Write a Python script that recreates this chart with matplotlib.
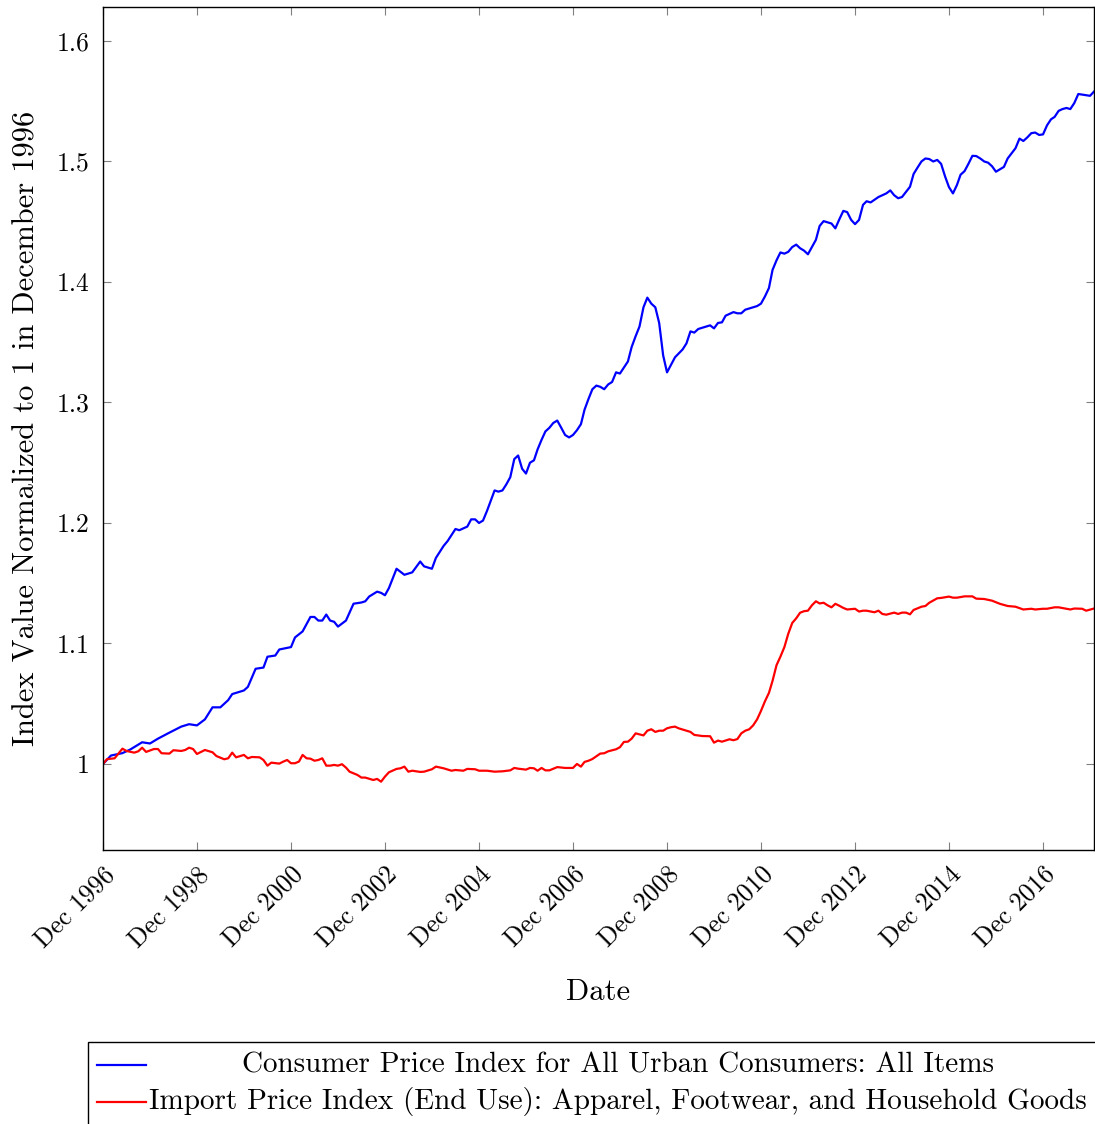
import matplotlib
matplotlib.use("Agg")
import matplotlib.pyplot as plt
import matplotlib.dates as mdates
from matplotlib.lines import Line2D
from matplotlib.patches import Rectangle
import pandas as pd

plt.rcParams['font.family'] = ['cmr10', 'DejaVu Serif']
plt.rcParams['axes.formatter.use_mathtext'] = True
plt.rcParams['mathtext.fontset'] = 'cm'

# ---- data (months after Dec 1996, index values) ----
cpi_months = [0, 2, 5, 7, 10, 12, 14, 17, 20, 22, 24, 26, 28, 30, 32, 33, 36, 37, 39, 41,
              42, 44, 45, 48, 49, 51, 53, 54, 55, 56, 57, 58, 59, 60, 62, 64, 66, 67, 68, 70,
              71, 72, 73, 75, 77, 79, 81, 82, 84, 85, 87, 88, 90, 91, 93, 94, 95, 96, 97, 98,
              100, 101, 102, 103, 104, 105, 106, 107, 108, 109, 110, 111, 112, 113, 114, 115, 116, 117, 118, 119,
              120, 121, 122, 123, 124, 125, 126, 127, 128, 129, 130, 131, 132, 133, 134, 135, 136, 137, 138, 139,
              140, 141, 142, 143, 144, 146, 148, 149, 150, 151, 152, 154, 155, 156, 157, 158, 159, 161, 162, 163,
              164, 166, 167, 168, 169, 170, 171, 172, 173, 174, 175, 176, 177, 178, 179, 180, 181, 182, 183, 184,
              186, 187, 188, 189, 190, 191, 192, 193, 194, 195, 196, 198, 199, 200, 201, 202, 203, 204, 206, 207,
              208, 209, 210, 211, 212, 213, 214, 215, 216, 217, 218, 219, 220, 221, 222, 223, 224, 225, 226, 227,
              228, 229, 230, 231, 233, 234, 235, 236, 237, 238, 239, 240, 241, 242, 243, 244, 245, 246, 247, 248,
              249, 250, 251, 252, 253]
cpi_values = [1.000, 1.007, 1.009, 1.012, 1.018, 1.017, 1.021, 1.026, 1.031, 1.033, 1.032, 1.037, 1.047, 1.047, 1.053, 1.058, 1.061, 1.064, 1.079, 1.080,
              1.089, 1.090, 1.095, 1.097, 1.105, 1.110, 1.122, 1.122, 1.119, 1.119, 1.124, 1.119, 1.118, 1.114, 1.119, 1.133, 1.134, 1.135, 1.139, 1.143,
              1.142, 1.140, 1.146, 1.162, 1.157, 1.159, 1.168, 1.164, 1.162, 1.171, 1.181, 1.185, 1.195, 1.194, 1.197, 1.203, 1.203, 1.200, 1.202, 1.210,
              1.227, 1.226, 1.227, 1.232, 1.238, 1.253, 1.256, 1.245, 1.241, 1.250, 1.252, 1.261, 1.269, 1.276, 1.279, 1.283, 1.285, 1.279, 1.273, 1.271,
              1.273, 1.277, 1.282, 1.294, 1.303, 1.311, 1.314, 1.313, 1.311, 1.315, 1.317, 1.325, 1.324, 1.329, 1.334, 1.346, 1.355, 1.363, 1.379, 1.387,
              1.382, 1.379, 1.366, 1.339, 1.325, 1.3375, 1.344, 1.349, 1.359, 1.358, 1.361, 1.363, 1.364, 1.3615, 1.366, 1.3665, 1.372, 1.375, 1.374, 1.374,
              1.377, 1.379, 1.380, 1.382, 1.388, 1.395, 1.410, 1.418, 1.4245, 1.4235, 1.425, 1.429, 1.431, 1.428, 1.426, 1.423, 1.429, 1.435, 1.4465, 1.4505,
              1.4485, 1.4445, 1.452, 1.459, 1.458, 1.4515, 1.448, 1.4515, 1.464, 1.467, 1.466, 1.4705, 1.472, 1.4735, 1.476, 1.472, 1.4695, 1.4705, 1.479, 1.4896,
              1.495, 1.500, 1.5025, 1.502, 1.500, 1.5013, 1.498, 1.4875, 1.4787, 1.4735, 1.4805, 1.489, 1.492, 1.498, 1.5047, 1.5045, 1.5025, 1.500, 1.499, 1.496,
              1.4915, 1.4935, 1.4955, 1.5025, 1.511, 1.519, 1.517, 1.520, 1.5235, 1.524, 1.522, 1.5225, 1.530, 1.535, 1.537, 1.542, 1.5435, 1.5444, 1.5435, 1.5485,
              1.556, 1.5555, 1.555, 1.5545, 1.558]

imp_months = [0, 1, 3, 5, 6, 8, 9, 10, 11, 13, 14, 15, 17, 18, 20, 21, 22, 23, 24, 25,
              26, 28, 29, 31, 32, 33, 34, 36, 37, 38, 40, 41, 42, 43, 45, 46, 47, 48, 49, 50,
              51, 52, 53, 54, 55, 56, 57, 58, 59, 60, 61, 62, 63, 65, 66, 67, 69, 70, 71, 72,
              73, 75, 76, 77, 78, 79, 81, 82, 84, 85, 87, 89, 90, 92, 93, 95, 96, 98, 100, 102,
              104, 105, 106, 108, 109, 110, 111, 112, 113, 114, 116, 118, 120, 121, 122, 123, 124, 125, 127, 128,
              129, 131, 132, 133, 134, 135, 136, 138, 139, 140, 141, 142, 143, 144, 145, 146, 147, 149, 150, 151,
              153, 155, 156, 157, 158, 160, 161, 162, 163, 164, 165, 166, 167, 168, 169, 170, 171, 172, 173, 174,
              175, 176, 177, 178, 179, 180, 181, 182, 183, 184, 185, 186, 187, 188, 189, 190, 192, 193, 194, 195,
              197, 198, 199, 200, 202, 203, 204, 205, 206, 207, 209, 210, 211, 213, 214, 216, 217, 218, 220, 222,
              223, 225, 227, 229, 231, 233, 235, 237, 238, 240, 241, 243, 244, 246, 247, 248, 250, 251, 253]
imp_values = [1.000, 1.004, 1.0047, 1.0127, 1.0108, 1.0094, 1.0105, 1.0135, 1.010, 1.0124, 1.0124, 1.0089, 1.0086, 1.0114, 1.0108, 1.0116, 1.0135, 1.0124, 1.0083, 1.010,
              1.0116, 1.0097, 1.0066, 1.0039, 1.0047, 1.0094, 1.0055, 1.0075, 1.0047, 1.0058, 1.0055, 1.0033, 0.9986, 1.0011, 1.0003, 1.0019, 1.0033, 1.0006, 1.0006, 1.0020,
              1.0075, 1.0047, 1.0044, 1.0027, 1.0033, 1.0047, 0.9986, 0.9986, 0.9992, 0.9986, 0.9998, 0.9970, 0.9936, 0.9909, 0.9887, 0.9887, 0.9867, 0.9876, 0.9853, 0.9895,
              0.9931, 0.9959, 0.9964, 0.9978, 0.9936, 0.9944, 0.9934, 0.9936, 0.9956, 0.9978, 0.9964, 0.9944, 0.9950, 0.9944, 0.9959, 0.9956, 0.9944, 0.9944, 0.9936, 0.9939,
              0.9947, 0.9967, 0.9961, 0.9953, 0.9967, 0.9964, 0.9944, 0.9967, 0.9947, 0.9947, 0.9974, 0.9967, 0.9967, 1.0000, 0.9978, 1.0017, 1.0027, 1.0041, 1.0086, 1.0089,
              1.0105, 1.0122, 1.0139, 1.0183, 1.0185, 1.0210, 1.0254, 1.0237, 1.0276, 1.0288, 1.0266, 1.0276, 1.0276, 1.0296, 1.0305, 1.0310, 1.0296, 1.0276, 1.0266, 1.0241,
              1.0232, 1.0230, 1.0177, 1.0194, 1.0185, 1.0205, 1.0197, 1.0207, 1.0254, 1.0276, 1.0288, 1.0320, 1.0370, 1.0440, 1.0520, 1.0590, 1.0690, 1.0820, 1.0890, 1.0970,
              1.1080, 1.1170, 1.1209, 1.1255, 1.1268, 1.1272, 1.1317, 1.1350, 1.1332, 1.1338, 1.1317, 1.1300, 1.1329, 1.1313, 1.1295, 1.1282, 1.1288, 1.1265, 1.1272, 1.1272,
              1.1259, 1.1272, 1.1245, 1.1239, 1.1256, 1.1245, 1.1256, 1.1256, 1.1242, 1.1278, 1.1305, 1.1311, 1.1338, 1.1375, 1.1378, 1.1389, 1.1380, 1.1380, 1.1391, 1.1391,
              1.1372, 1.1369, 1.1355, 1.1329, 1.1311, 1.1305, 1.1282, 1.1288, 1.1282, 1.1288, 1.1288, 1.1300, 1.1300, 1.1288, 1.1282, 1.1290, 1.1288, 1.1272, 1.1290]

series_labels = ["Consumer Price Index for All Urban Consumers: All Items",
                 "Import Price Index (End Use): Apparel, Footwear, and Household Goods"]
series_colors = ["#0000ff", "#ff0000"]
tick_years = list(range(1996, 2017, 2))
tick_labels = [f"Dec {y}" for y in tick_years]
y_ticks = [1.0, 1.1, 1.2, 1.3, 1.4, 1.5, 1.6]
y_tick_labels = ["1", "1.1", "1.2", "1.3", "1.4", "1.5", "1.6"]
x_label = "Date"
y_label = "Index Value Normalized to 1 in December 1996"

start = pd.Timestamp("1996-12-01")
def to_dates(months):
    return [start + pd.DateOffset(months=int(m)) for m in months]

W, H = 1095, 1124
fig = plt.figure(figsize=(W / 100, H / 100), dpi=100)

def fx(px):
    return px / W

def fy(py):
    return 1 - py / H

ax = fig.add_axes([fx(103), fy(850), fx(1094) - fx(103), fy(7) - fy(850)])

ax.plot(to_dates(cpi_months), cpi_values, color=series_colors[0], lw=1.6)
ax.plot(to_dates(imp_months), imp_values, color=series_colors[1], lw=1.6)

ax.set_xlim(pd.Timestamp("1996-12-01"), pd.Timestamp("2018-01-01"))
ax.set_ylim(0.9286, 1.6282)

ax.set_xticks([pd.Timestamp(f"{y}-12-01") for y in tick_years])
ax.set_xticklabels(tick_labels, rotation=45, ha="right", va="top",
                   rotation_mode="anchor", fontsize=18.5)
ax.set_yticks(y_ticks)
ax.set_yticklabels(y_tick_labels, fontsize=18.5)

ax.tick_params(axis="both", which="both", direction="in", length=6, width=0.8,
               color="0.5", top=True, right=True)
ax.tick_params(axis="x", pad=9)
ax.tick_params(axis="y", pad=10)
for s in ax.spines.values():
    s.set_linewidth(1.0)
    s.set_color("black")

ax.set_xlabel(x_label, fontsize=22, va="top")
ax.xaxis.set_label_coords(0.5, -0.152)
ax.set_ylabel(y_label, fontsize=22)
ax.yaxis.set_label_coords(-0.063, 0.5)

# legend box (drawn manually, pgfplots style)
fig.add_artist(Rectangle((fx(88), fy(1130)), fx(1100) - fx(88), fy(1042) - fy(1130),
                         transform=fig.transFigure, fill=False, edgecolor="black",
                         lw=1.0, clip_on=False))
row_y = [1065, 1102]
for i in range(2):
    fig.add_artist(Line2D([fx(97), fx(146)], [fy(row_y[i]), fy(row_y[i])],
                          transform=fig.transFigure, color=series_colors[i], lw=1.6))
    fig.text(fx(618), fy(row_y[i]), series_labels[i], ha="center", va="center", fontsize=21)

fig.savefig("out.png", dpi=100)
